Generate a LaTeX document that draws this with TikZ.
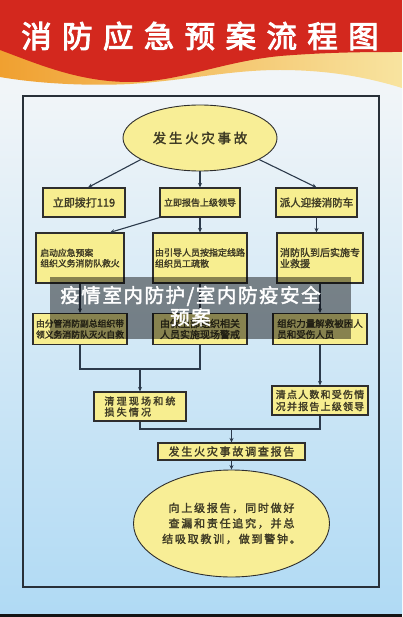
\documentclass[tikz,border=0pt]{standalone}
\usepackage{fontspec}
\setmainfont{Noto Sans CJK SC}[AutoFakeBold=2]
\newfontfamily\titlefont{Noto Sans CJK SC}[FakeBold=3,LetterSpace=34]
\usetikzlibrary{shapes.geometric,arrows.meta}
\definecolor{hdrred}{HTML}{D3281E}
\definecolor{bandor}{HTML}{F0A030}
\definecolor{bandye}{HTML}{F8E4A0}
\definecolor{bgtop}{HTML}{F1F5F8}
\definecolor{bgbot}{HTML}{B0DAF4}
\definecolor{boxfill}{HTML}{F7EE90}
\definecolor{ellfill}{HTML}{F8EE96}
\definecolor{boxline}{HTML}{2E2E2E}
\definecolor{txtc}{HTML}{3F3B25}
\definecolor{connc}{HTML}{2C3A4B}
\definecolor{framec}{HTML}{283038}
\newcommand\fz[2]{\fontsize{#1}{#2}\selectfont}
\newcommand\lsp[1]{\addfontfeatures{LetterSpace=#1}}
\tikzset{
  box/.style={draw=boxline, line width=1.1pt, fill=boxfill, text=txtc, inner sep=0pt, align=left},
  oval/.style={ellipse, draw=boxline, line width=0.9pt, fill=ellfill, text=txtc, inner sep=0pt, align=center},
  conn/.style={draw=connc, line width=1.1pt},
  arr/.style={conn, -{Stealth[length=4.5pt,width=4pt]}}
}
\begin{document}
\begin{tikzpicture}[x=1pt,y=-1pt]
\useasboundingbox (0,0) rectangle (402,617);
% background
\fill[bgtop] (0,0) rectangle (402,90);
\shade[top color=bgtop, bottom color=bgbot] (0,90) rectangle (402,614);
\fill[black!92] (0,614) rectangle (402,617);
% header band
\shade[left color=bandor, right color=bandye] (0,0) -- (402,0) -- (402,88)
  .. controls (370,78) and (330,70) .. (280,70)
  .. controls (230,70) and (190,80) .. (130,84)
  .. controls (90,86) and (40,84) .. (0,77) -- cycle;
% header red
\fill[hdrred] (0,0) -- (402,0) -- (402,52)
  .. controls (370,52) and (330,52) .. (280,56)
  .. controls (220,62) and (180,82) .. (130,82)
  .. controls (80,82) and (40,65) .. (0,50) -- cycle;
\node[text=white, font=\titlefont\fz{30.5}{33}, inner sep=0pt] (title) at (200,36) {消防应急预案流程图};
% frame
\draw[framec, line width=1.8pt] (23,96) rectangle (379,587);
% nodes
\node[oval, minimum width=154pt, minimum height=66pt, font=\bfseries\fz{13.5}{16}\lsp{20}] (e1) at (200,138) {发生火灾事故};
\node[box, minimum width=82pt, minimum height=29pt, font=\bfseries\fz{11}{13}] (A) at (84,202.5) {立即拨打119};
\node[box, minimum width=80pt, minimum height=29pt, font=\bfseries\fz{9}{11}] (B) at (200,202.5) {立即报告上级领导};
\node[box, minimum width=81pt, minimum height=29pt, font=\bfseries\fz{10.5}{12}] (C) at (316.5,202.5) {派人迎接消防车};
\node[box, minimum width=88pt, minimum height=50pt, font=\bfseries\fz{8.8}{10.5}] (D) at (80,258) {启动应急预案\\组织义务消防队救火};
\node[box, minimum width=94pt, minimum height=50pt, font=\bfseries\fz{9}{11}] (E) at (200,258) {由引导人员按指定线路\\组织员工疏散};
\node[box, minimum width=86pt, minimum height=50pt, font=\bfseries\fz{10}{11}] (F) at (320,258) {消防队到后实施专\\业救援};
\node[box, minimum width=94pt, minimum height=31pt, font=\bfseries\fz{8.8}{11}] (G) at (80,329) {由分管消防副总组织带\\领义务消防队灭火自救};
\node[box, minimum width=94pt, minimum height=31pt, font=\bfseries\fz{10}{11}] (H) at (200,329) {由保卫部组织相关\\人员实施现场警戒};
\node[box, minimum width=94pt, minimum height=31pt, font=\bfseries\fz{9.5}{11}] (I) at (320,329) {组织力量解救被困人\\员和受伤人员};
\node[box, minimum width=92pt, minimum height=29pt, font=\bfseries\fz{10}{11}\lsp{22}] (J) at (140,406.5) {清理现场和统\\损失情况};
\node[box, minimum width=96pt, minimum height=29pt, font=\bfseries\fz{10}{12}\lsp{12}] (K) at (320,400.5) {清点人数和受伤情\\况并报告上级领导};
\node[box, minimum width=147pt, minimum height=17pt, align=center, font=\bfseries\fz{11}{13}\lsp{16}] (L) at (231.5,451.5) {发生火灾事故调查报告};
\node[oval, minimum width=189pt, minimum height=107pt, font=\bfseries\fz{11}{15.5}\lsp{16}] (e2) at (231.5,523.5) {向上级报告，同时做好\\查漏和责任追究，并总\\结吸取教训，做到警钟。};
% connectors
\draw[arr] (e1.200) -- ([xshift=4pt]A.north);
\draw[arr] (e1.south) -- (B.north);
\draw[arr] (e1.340) -- (C.north);
\draw[arr] (B.south west) -- ([xshift=30pt]D.north);
\draw[arr] (B.south) -- (E.north);
\draw[arr] (C.south) -- (C.south |- F.north);
\draw[arr] (D.south) -- (G.north);
\draw[arr] (E.south) -- (H.north);
\draw[arr] (I.north |- F.south) -- (I.north);
\coordinate (m1) at (140,369);
\draw[conn] (G.south) |- (m1) -| (H.south);
\draw[arr] (m1) -- (J.north);
\draw[arr] (I.south) -- (K.north);
\coordinate (m2) at (231.5,429);
\draw[conn] (J.south) |- (m2) -| (K.south);
\draw[arr] (m2) -- (L.north);
\draw[arr] (L.south) -- (e2.north);
% overlay
\fill[black, opacity=0.45] (50,277) rectangle (351,339);
\node[text=white, align=center, inner sep=0pt, font=\bfseries\fz{19.5}{22}\lsp{8}] (ov) at (190.5,306) {疫情室内防护/室内防疫安全\\预案};
\end{tikzpicture}
\end{document}
